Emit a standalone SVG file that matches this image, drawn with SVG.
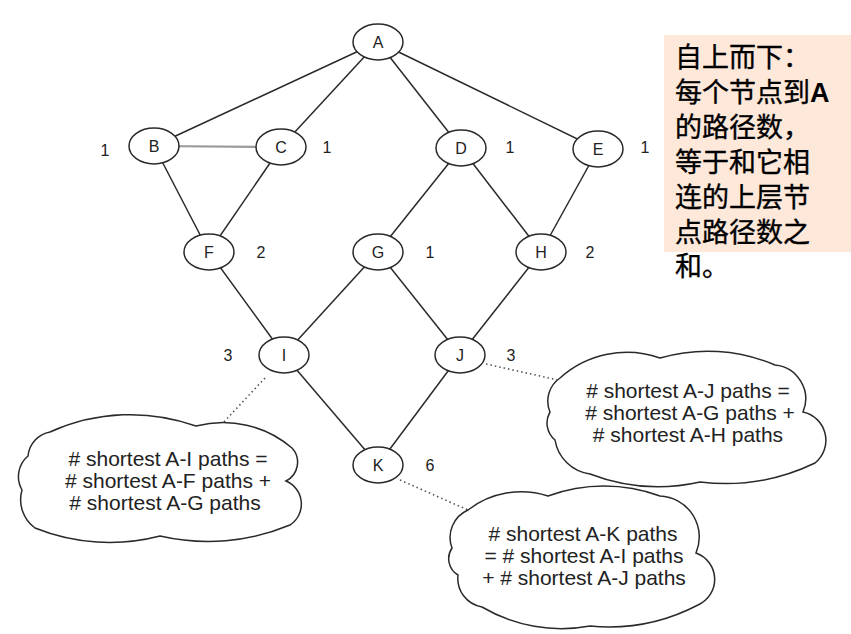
<svg xmlns="http://www.w3.org/2000/svg" width="851" height="634" viewBox="0 0 851 634">
<style>
.edge{stroke:#2a2a2a;stroke-width:1.5;fill:none}
.edge2{stroke:#9a9a9a;stroke-width:2.2;fill:none}
.dot{stroke:#555;stroke-width:1.6;stroke-dasharray:1.5 3;fill:none}
.node ellipse{fill:#fff;stroke:#2a2a2a;stroke-width:1.5}
.lbl{font-family:"Liberation Sans",Arial,sans-serif;font-size:16px;fill:#222;text-anchor:middle}
.num{font-family:"Liberation Sans",Arial,sans-serif;font-size:16px;fill:#222;text-anchor:middle}
.cloud path{fill:#fff;stroke:#2a2a2a;stroke-width:1.5}
.ct{font-family:"Liberation Sans",Arial,sans-serif;font-size:21px;fill:#222;text-anchor:middle}
.zh{font-family:"Noto Sans CJK SC",sans-serif;font-size:27px;fill:#000;stroke:#000;stroke-width:0.35}
.zA{font-family:"Liberation Sans",Arial,sans-serif;font-weight:bold;stroke-width:0}
</style>
<rect width="851" height="634" fill="#fff"/>
<g id="note">
<rect x="664" y="35" width="187" height="217" fill="#fde8da"/>
<text class="zh" x="675" y="67">自上而下：</text>
<text class="zh" x="675" y="102">每个节点到<tspan class="zA">A</tspan></text>
<text class="zh" x="675" y="137">的路径数，</text>
<text class="zh" x="675" y="172">等于和它相</text>
<text class="zh" x="675" y="207">连的上层节</text>
<text class="zh" x="675" y="242">点路径数之</text>
<text class="zh" x="675" y="276">和。</text>
</g>
<g id="connectors">
<line class="edge" x1="378" y1="42" x2="154" y2="146"/>
<line class="edge" x1="378" y1="42" x2="281" y2="147"/>
<line class="edge" x1="378" y1="42" x2="461" y2="148"/>
<line class="edge" x1="378" y1="42" x2="598" y2="149"/>
<line class="edge2" x1="154" y1="146" x2="281" y2="147"/>
<line class="edge" x1="154" y1="146" x2="209" y2="252"/>
<line class="edge" x1="281" y1="147" x2="209" y2="252"/>
<line class="edge" x1="461" y1="148" x2="378" y2="252"/>
<line class="edge" x1="461" y1="148" x2="541" y2="252"/>
<line class="edge" x1="598" y1="149" x2="541" y2="252"/>
<line class="edge" x1="209" y1="252" x2="284" y2="355"/>
<line class="edge" x1="378" y1="252" x2="284" y2="355"/>
<line class="edge" x1="378" y1="252" x2="460" y2="355"/>
<line class="edge" x1="541" y1="252" x2="460" y2="355"/>
<line class="edge" x1="284" y1="355" x2="378" y2="465"/>
<line class="edge" x1="460" y1="355" x2="378" y2="465"/>
<line class="dot" x1="265" y1="378" x2="222" y2="424"/>
<line class="dot" x1="486" y1="364" x2="558" y2="380"/>
<line class="dot" x1="400" y1="480" x2="468" y2="510"/>
</g>
<g id="A" class="node"><ellipse cx="378" cy="42" rx="25" ry="18"/><text class="lbl" x="378" y="48">A</text></g>
<g id="B" class="node"><ellipse cx="154" cy="146" rx="25" ry="18"/><text class="lbl" x="154" y="152">B</text></g>
<g id="C" class="node"><ellipse cx="281" cy="147" rx="25" ry="18"/><text class="lbl" x="281" y="153">C</text></g>
<g id="D" class="node"><ellipse cx="461" cy="148" rx="25" ry="18"/><text class="lbl" x="461" y="154">D</text></g>
<g id="E" class="node"><ellipse cx="598" cy="149" rx="25" ry="18"/><text class="lbl" x="598" y="155">E</text></g>
<g id="F" class="node"><ellipse cx="209" cy="252" rx="25" ry="18"/><text class="lbl" x="209" y="258">F</text></g>
<g id="G" class="node"><ellipse cx="378" cy="252" rx="25" ry="18"/><text class="lbl" x="378" y="258">G</text></g>
<g id="H" class="node"><ellipse cx="541" cy="252" rx="25" ry="18"/><text class="lbl" x="541" y="258">H</text></g>
<g id="I" class="node"><ellipse cx="284" cy="355" rx="25" ry="18"/><text class="lbl" x="284" y="361">I</text></g>
<g id="J" class="node"><ellipse cx="460" cy="355" rx="25" ry="18"/><text class="lbl" x="460" y="361">J</text></g>
<g id="K" class="node"><ellipse cx="378" cy="465" rx="25" ry="18"/><text class="lbl" x="378" y="471">K</text></g>
<g id="counts">
<text class="num" x="105" y="156">1</text>
<text class="num" x="327" y="153">1</text>
<text class="num" x="510" y="153">1</text>
<text class="num" x="645" y="153">1</text>
<text class="num" x="261" y="258">2</text>
<text class="num" x="430" y="258">1</text>
<text class="num" x="590" y="258">2</text>
<text class="num" x="228" y="361">3</text>
<text class="num" x="511" y="361">3</text>
<text class="num" x="430" y="471">6</text>
</g>
<g id="cloudI" class="cloud">
<path d="M 28 456 A 27 27 0 0 1 50 432 A 195 195 0 0 1 196 426 A 106 106 0 0 1 292 448 A 21 21 0 0 1 286 481 A 25 25 0 0 1 290 525 A 213 213 0 0 1 160 536 A 200 200 0 0 1 35 528 A 35 35 0 0 1 22 490 A 27 27 0 0 1 28 456 Z"/>
<text class="ct" x="168" y="466"># shortest A-I paths =</text>
<text class="ct" x="168" y="488"># shortest A-F paths +</text>
<text class="ct" x="165" y="510"># shortest A-G paths</text>
</g>
<g id="cloudJ" class="cloud">
<path d="M 550 412 A 28 28 0 0 1 560 378 A 100 100 0 0 1 660 358 A 170 170 0 0 1 775 365 A 34 34 0 0 1 803 412 A 29 29 0 0 1 815 463 A 207 207 0 0 1 700 482 A 190 190 0 0 1 590 474 A 41 41 0 0 1 555 440 A 22 22 0 0 1 550 412 Z"/>
<text class="ct" x="688" y="398"># shortest A-J paths =</text>
<text class="ct" x="690" y="420"># shortest A-G paths +</text>
<text class="ct" x="688" y="442"># shortest A-H paths</text>
</g>
<g id="cloudK" class="cloud">
<path d="M 452 548 A 30 30 0 0 1 468 510 A 87 87 0 0 1 548 496 A 162 162 0 0 1 660 496 A 41 41 0 0 1 696 553 A 28 28 0 0 1 698 605 A 193 193 0 0 1 590 626 A 156 156 0 0 1 482 607 A 29 29 0 0 1 458 575 A 19 19 0 0 1 452 548 Z"/>
<text class="ct" x="583" y="541"># shortest A-K paths</text>
<text class="ct" x="584" y="563">= # shortest A-I paths</text>
<text class="ct" x="584" y="585">+ # shortest A-J paths</text>
</g>
</svg>
